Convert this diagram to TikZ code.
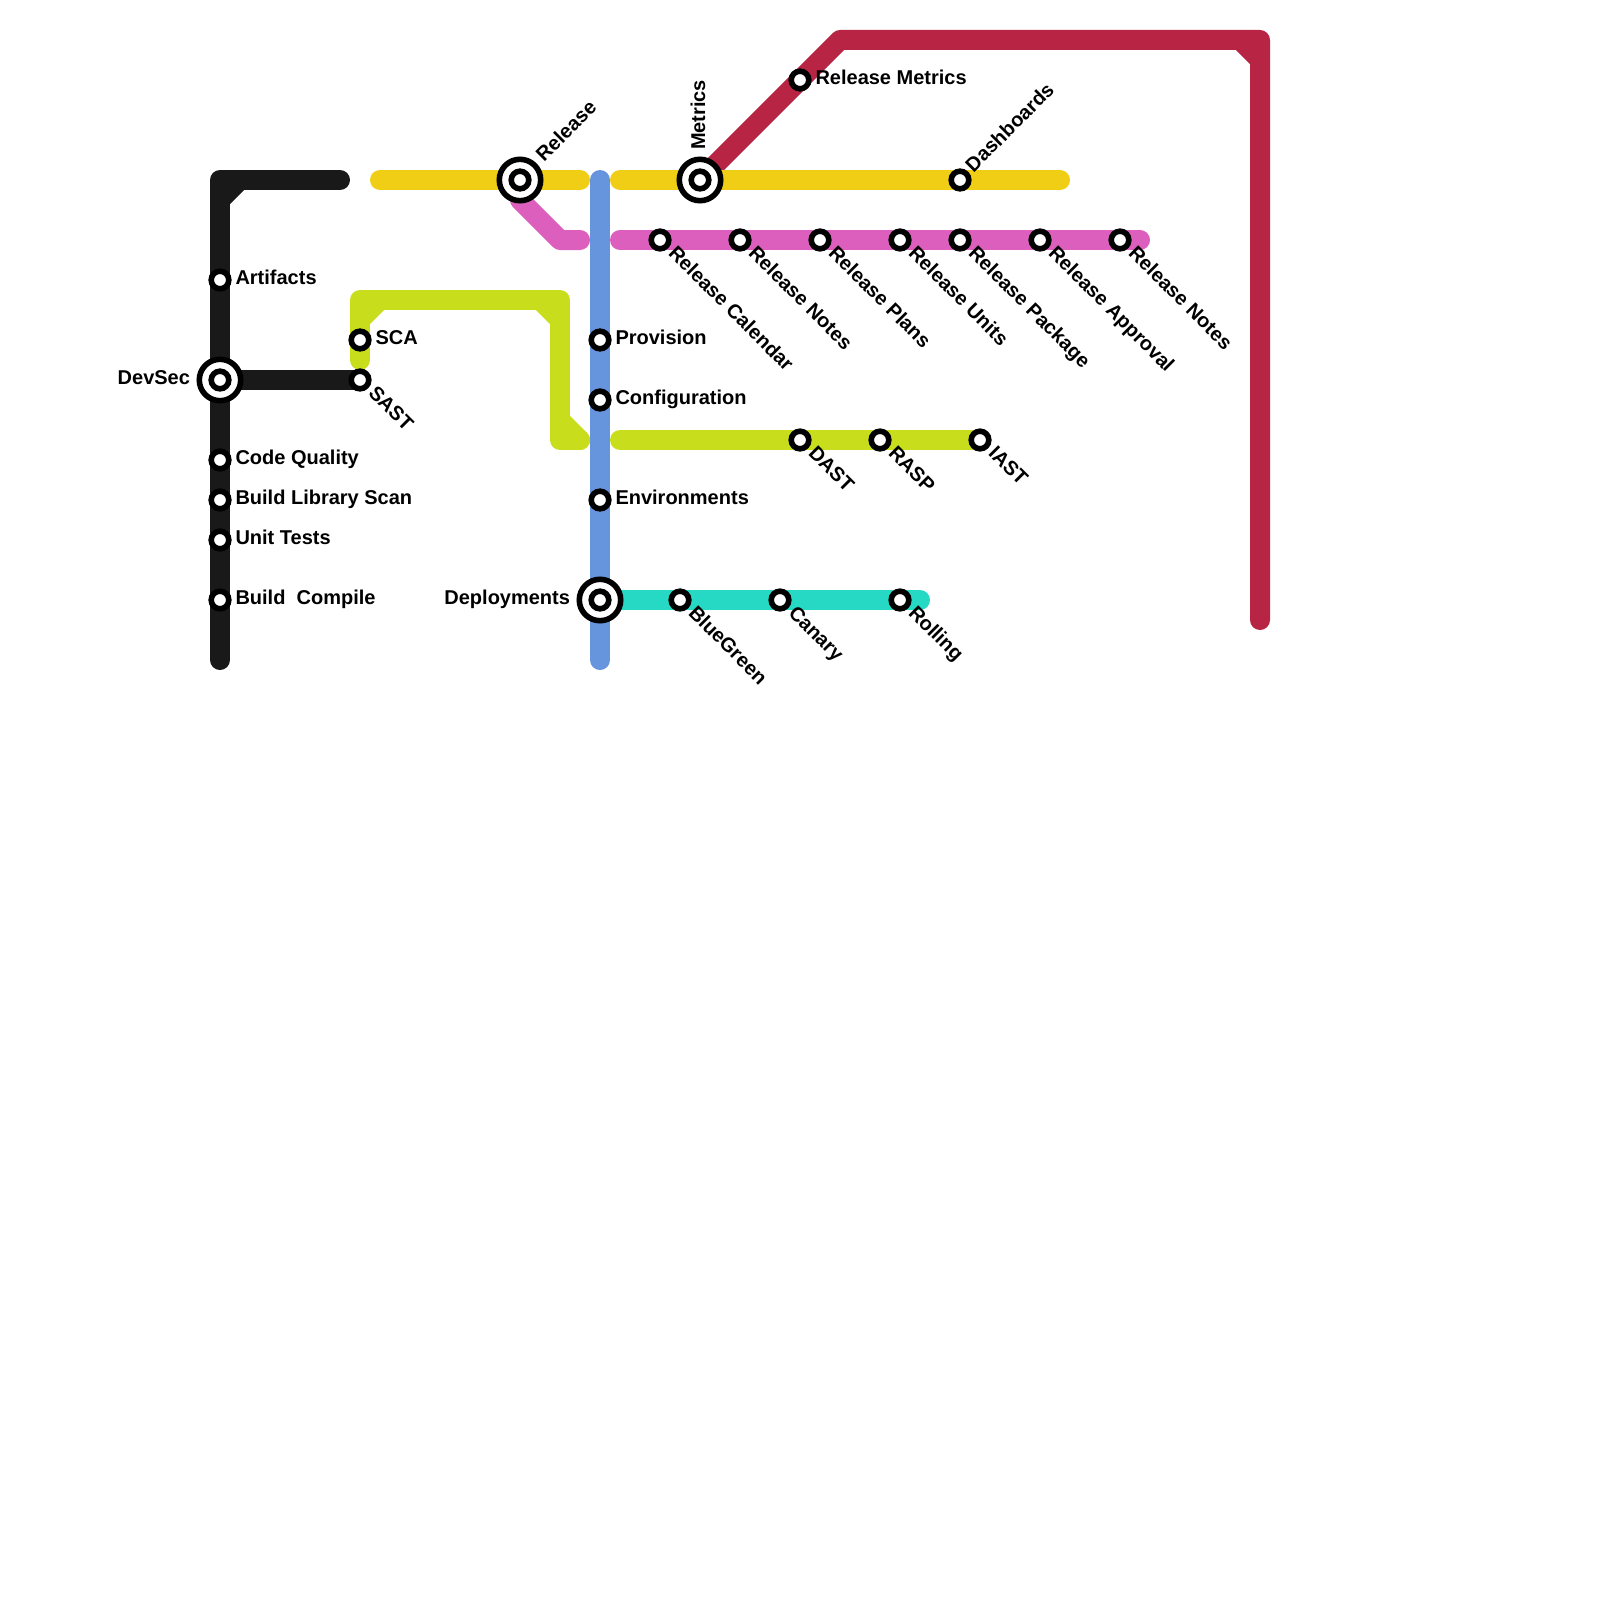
\documentclass[tikz,border=0pt]{standalone}
\usepackage{fontspec}
\setmainfont{Liberation Sans}
\usetikzlibrary{backgrounds}
\definecolor{cblack}{HTML}{191919}
\definecolor{cyellow}{HTML}{F0CE15}
\definecolor{cpink}{HTML}{DD5FBD}
\definecolor{cblue}{HTML}{6694DD}
\definecolor{clime}{HTML}{C8DE1C}
\definecolor{cteal}{HTML}{26D9C4}
\definecolor{cred}{HTML}{B82444}
\tikzset{
  metro/.style={line width=20bp,line cap=round,line join=round},
  stn/.style={circle,draw=black,fill=white,line width=5.6bp,minimum size=17.6bp,inner sep=0pt,outer sep=0pt},
  hub/.style={circle,draw=black,fill=white,line width=5.6bp,minimum size=41.4bp,inner sep=0pt,outer sep=0pt},
  lbl/.style={font=\bfseries\fontsize{20bp}{24bp}\selectfont,inner sep=0pt,outer sep=0pt,text=black},
  lblE/.style={lbl,anchor=base west,shift={(15.5,4.5)}},
  lblSE/.style={lbl,anchor=base west,shift={(7.5,14.2)},rotate=-45},
  lblNE/.style={lbl,anchor=base west,shift={(13.6,-7)},rotate=45},
  lblHubNE/.style={lbl,anchor=base west,shift={(24.2,-17.6)},rotate=45},
  lblHubN/.style={lbl,anchor=base west,shift={(5,-30)},rotate=90},
  lblHubW/.style={lbl,anchor=base east,shift={(-30,4.5)}},
}
\begin{document}
\begin{tikzpicture}[x=1bp,y=-1bp]
\useasboundingbox (0,0) rectangle (1600,1600);
% stations
\node[stn] (artifacts) at (220,280) {};
\node[hub] (devsecO) at (220,380) {}; \node[stn] (devsec) at (220,380) {};
\node[stn] (quality) at (220,460) {};
\node[stn] (library) at (220,500) {};
\node[stn] (unit) at (220,540) {};
\node[stn] (compile) at (220,600) {};
\node[stn] (sca) at (360,340) {};
\node[stn] (sast) at (360,380) {};
\node[hub] (releaseO) at (520,180) {}; \node[stn] (release) at (520,180) {};
\node[hub] (metricsO) at (700,180) {}; \node[stn] (metrics) at (700,180) {};
\node[stn] (relmetrics) at (800,80) {};
\node[stn] (dash) at (960,180) {};
\node[stn] (p1) at (660,240) {};
\node[stn] (p2) at (740,240) {};
\node[stn] (p3) at (820,240) {};
\node[stn] (p4) at (900,240) {};
\node[stn] (p5) at (960,240) {};
\node[stn] (p6) at (1040,240) {};
\node[stn] (p7) at (1120,240) {};
\node[stn] (prov) at (600,340) {};
\node[stn] (conf) at (600,400) {};
\node[stn] (env) at (600,500) {};
\node[hub] (deployO) at (600,600) {}; \node[stn] (deploy) at (600,600) {};
\node[stn] (dast) at (800,440) {};
\node[stn] (rasp) at (880,440) {};
\node[stn] (iast) at (980,440) {};
\node[stn] (blue) at (680,600) {};
\node[stn] (canary) at (780,600) {};
\node[stn] (rolling) at (900,600) {};
% free ends and bends
\coordinate (kb) at (220,660); \coordinate (kc) at (220,180); \coordinate (ke) at (340,180);
\coordinate (kd1) at (220,200); \coordinate (kd2) at (240,180);
\coordinate (y1a) at (380,180); \coordinate (y1b) at (580,180);
\coordinate (y2a) at (620,180); \coordinate (y2b) at (1060,180);
\coordinate (bt) at (600,180); \coordinate (bb) at (600,660);
\coordinate (pa) at (520,200); \coordinate (pc) at (560,240); \coordinate (pe) at (580,240);
\coordinate (p2a) at (620,240); \coordinate (p2b) at (1140,240);
\coordinate (l1) at (360,360); \coordinate (l2) at (360,300); \coordinate (l3) at (560,300);
\coordinate (l4) at (560,440); \coordinate (l5) at (580,440);
\coordinate (ld1) at (360,320); \coordinate (ld2) at (380,300);
\coordinate (ld3) at (540,300); \coordinate (ld4) at (560,320); \coordinate (ld5) at (560,420);
\coordinate (m1) at (620,440);
\coordinate (r1) at (840,40); \coordinate (r2) at (1260,40); \coordinate (r3) at (1260,620);
\coordinate (rd1) at (1240,40); \coordinate (rd2) at (1260,60);
\coordinate (te) at (920,600);
% lines
\begin{scope}[on background layer]
\draw[metro,cred] (metrics.center) -- (r1) -- (r2) -- (r3);
\draw[metro,cred] (rd1) -- (rd2);
\draw[metro,cblack] (kb) -- (kc) -- (ke);
\draw[metro,cblack] (kd1) -- (kd2);
\draw[metro,cblack] (devsec.center) -- (sast.center);
\draw[metro,cyellow] (y1a) -- (y1b);
\draw[metro,cyellow] (y2a) -- (y2b);
\draw[metro,cpink] (pa) -- (pc) -- (pe);
\draw[metro,cpink] (p2a) -- (p2b);
\draw[metro,clime] (l1) -- (l2) -- (l3) -- (l4) -- (l5);
\draw[metro,clime] (ld1) -- (ld2);
\draw[metro,clime] (ld3) -- (ld4);
\draw[metro,clime] (ld5) -- (l5);
\draw[metro,clime] (m1) -- (iast.center);
\draw[metro,cteal] (deploy.center) -- (te);
\draw[metro,cblue] (bt) -- (bb);
\end{scope}
% labels
\node[lblE] (tArtifacts) at (artifacts.center) {Artifacts};
\node[lblHubW] (tDevSec) at (devsec.center) {DevSec};
\node[lblE] (tQuality) at (quality.center) {Code Quality};
\node[lblE] (tLibrary) at (library.center) {Build Library Scan};
\node[lblE] (tUnit) at (unit.center) {Unit Tests};
\node[lblE] (tCompile) at (compile.center) {Build\ \ Compile};
\node[lblE] (tSca) at (sca.center) {SCA};
\node[lblSE] (tSast) at (sast.center) {SAST};
\node[lblHubNE] (tRelease) at (release.center) {Release};
\node[lblHubN] (tMetrics) at (metrics.center) {Metrics};
\node[lblE] (tRelMetrics) at (relmetrics.center) {Release Metrics};
\node[lblNE] (tDash) at (dash.center) {Dashboards};
\node[lblSE] (tP1) at (p1.center) {Release Calendar};
\node[lblSE] (tP2) at (p2.center) {Release Notes};
\node[lblSE] (tP3) at (p3.center) {Release Plans};
\node[lblSE] (tP4) at (p4.center) {Release Units};
\node[lblSE] (tP5) at (p5.center) {Release Package};
\node[lblSE] (tP6) at (p6.center) {Release Approval};
\node[lblSE] (tP7) at (p7.center) {Release Notes};
\node[lblE] (tProv) at (prov.center) {Provision};
\node[lblE] (tConf) at (conf.center) {Configuration};
\node[lblE] (tEnv) at (env.center) {Environments};
\node[lblHubW] (tDeploy) at (deploy.center) {Deployments};
\node[lblSE] (tDast) at (dast.center) {DAST};
\node[lblSE] (tRasp) at (rasp.center) {RASP};
\node[lblSE] (tIast) at (iast.center) {IAST};
\node[lblSE] (tBlue) at (blue.center) {BlueGreen};
\node[lblSE] (tCanary) at (canary.center) {Canary};
\node[lblSE] (tRolling) at (rolling.center) {Rolling};
\end{tikzpicture}
\end{document}
